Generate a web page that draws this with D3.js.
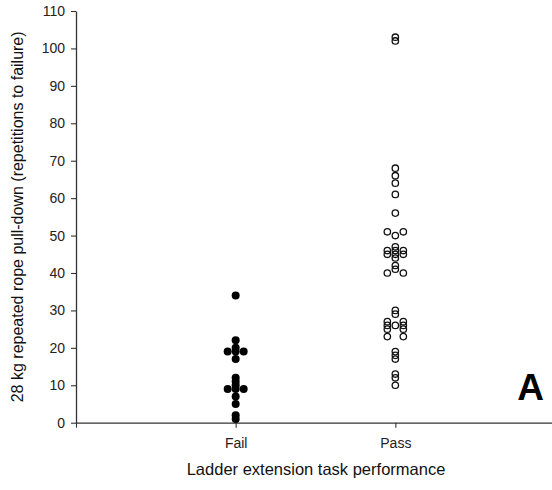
<!DOCTYPE html>
<html>
<head>
<meta charset="utf-8">
<script src="https://cdn.jsdelivr.net/npm/d3@7"></script>
<style>
  body { margin: 0; background: #fff; }
  text { font-family: "Liberation Sans", Arial, sans-serif; }
</style>
</head>
<body>
<div id="chart"></div>
<script>
const groups = ["Fail", "Pass"];
const failValues = [34, 22, 20, 19, 19, 19, 17, 12, 11, 10, 9, 9, 9, 7, 5, 2, 1];
const passValues = [103, 102, 68, 66, 64, 61, 56, 51, 51, 50, 47, 46, 46, 46, 45, 45, 45, 44,
  42, 41, 40, 40, 30, 29, 27, 27, 26, 26, 26, 25, 25, 23, 23, 19, 18, 17, 13, 12, 10];
const yTicks = [0, 10, 20, 30, 40, 50, 60, 70, 80, 90, 100, 110];

const width = 552, height = 490;
const margin = { top: 11, left: 76, bottom: 67, right: 0 };

const svg = d3.select("#chart").append("svg")
  .attr("width", width).attr("height", height);

// x: groups sit at 1 and 2 on a 0..3 axis
const x = d3.scaleLinear().domain([0, 3]).range([margin.left, 555]);
const y = d3.scaleLinear().domain([0, 110]).range([height - margin.bottom - 0.3, margin.top]);

const yAxis = svg.append("g")
  .attr("transform", `translate(${margin.left},0)`)
  .call(d3.axisLeft(y).tickValues(yTicks).tickSize(5).tickPadding(6).tickSizeOuter(0));

const xAxis = svg.append("g")
  .attr("transform", `translate(0,${y(0)})`)
  .call(d3.axisBottom(x).tickValues([0, 1, 2]).tickSize(5).tickPadding(10).tickSizeOuter(0)
    .tickFormat(d => d === 0 ? "" : groups[d - 1]));

[yAxis, xAxis].forEach(ax => {
  ax.select(".domain").attr("stroke", "#333").attr("stroke-width", 1.3);
  ax.selectAll(".tick line").attr("stroke", "#333").attr("stroke-width", 1.1);
  ax.selectAll("text").attr("fill", "#222").style("font-size", "14px");
});

// spread equal values side by side
function spread(values, pos) {
  const counts = d3.rollup(values, v => v.length, d => d);
  const pts = [];
  counts.forEach((n, v) => {
    for (let i = 0; i < n; i++) {
      let off;
      if (n % 2 === 1) off = i - (n - 1) / 2;
      else off = (i < n / 2 ? i - n / 2 : i - n / 2 + 1);
      pts.push({ value: v, cx: x(pos) + off * 8 });
    }
  });
  return pts;
}

svg.append("g").selectAll("circle")
  .data(spread(failValues, 1))
  .enter().append("circle")
  .attr("cx", d => d.cx)
  .attr("cy", d => y(d.value))
  .attr("r", 4)
  .attr("fill", "#000");

svg.append("g").selectAll("circle")
  .data(spread(passValues, 2))
  .enter().append("circle")
  .attr("cx", d => d.cx)
  .attr("cy", d => y(d.value))
  .attr("r", 3.2)
  .attr("fill", "none")
  .attr("stroke", "#111")
  .attr("stroke-width", 1.3);

svg.append("text")
  .attr("transform", `translate(23,${(y(0) + y(110)) / 2}) rotate(-90)`)
  .attr("text-anchor", "middle")
  .style("font-size", "16px")
  .attr("fill", "#111")
  .text("28 kg repeated rope pull-down (repetitions to failure)");

svg.append("text")
  .attr("x", 316).attr("y", 475)
  .attr("text-anchor", "middle")
  .style("font-size", "16.5px")
  .attr("fill", "#111")
  .text("Ladder extension task performance");

svg.append("text")
  .attr("x", 544).attr("y", 400)
  .attr("text-anchor", "end")
  .style("font-size", "37px")
  .style("font-weight", "bold")
  .text("A");
</script>
</body>
</html>
